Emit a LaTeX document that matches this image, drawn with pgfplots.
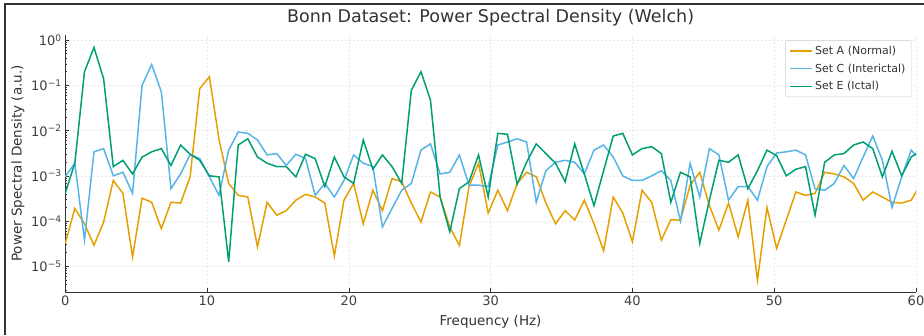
\documentclass[border=0pt]{standalone}
\usepackage{fontspec}
\setmainfont{DejaVu Sans}
\usepackage{pgfplots}
\pgfplotsset{compat=1.18}
\usepackage{pgfplotstable}
\definecolor{cA}{HTML}{E69F00}
\definecolor{cC}{HTML}{56B4E9}
\definecolor{cE}{HTML}{009E73}
\pgfplotstableread{
f A C E
0 3.2e-5 9.5e-4 4.1e-4
0.68 1.9e-4 1.9e-3 1.9e-3
1.36 8.7e-5 3.8e-5 0.2
2.03 2.9e-5 3.4e-3 0.69
2.71 9.5e-5 4.0e-3 0.14
3.39 7.9e-4 1.0e-3 1.6e-3
4.07 4.1e-4 1.2e-3 2.2e-3
4.75 1.6e-5 4.1e-4 1.1e-3
5.42 3.2e-4 0.1 2.6e-3
6.10 2.6e-4 0.29 3.4e-3
6.78 6.8e-5 7.2e-2 4.0e-3
7.46 2.6e-4 5.2e-4 1.7e-3
8.14 2.5e-4 1.1e-3 4.8e-3
8.81 9.5e-4 3.0e-3 3.0e-3
9.49 8.5e-2 2.4e-3 2.2e-3
10.17 0.155 9.5e-4 1.0e-3
10.85 6.3e-3 3.7e-4 9.5e-4
11.53 6.8e-4 3.7e-3 1.26e-5
12.20 3.7e-4 9.3e-3 4.8e-3
12.88 3.4e-4 8.7e-3 6.6e-3
13.56 2.7e-5 6.2e-3 2.6e-3
14.24 2.6e-4 2.9e-3 1.9e-3
14.92 1.35e-4 3.1e-3 1.6e-3
15.59 1.7e-4 1.7e-3 1.6e-3
16.27 2.9e-4 3.0e-3 9.5e-4
16.95 3.9e-4 2.4e-3 3.0e-3
17.63 3.4e-4 3.7e-4 2.4e-3
18.31 2.5e-4 6.8e-4 5.8e-4
18.98 1.7e-5 3.4e-4 2.6e-3
19.66 2.9e-4 7.9e-4 9.5e-4
20.34 6.8e-4 2.9e-3 6.8e-4
21.02 8.7e-5 1.9e-3 6.2e-3
21.70 4.8e-4 1.6e-3 1.4e-3
22.37 1.7e-4 7.4e-5 2.9e-3
23.05 8.7e-4 1.9e-4 1.6e-3
23.73 7.4e-4 4.8e-4 6.8e-4
24.41 2.5e-4 6.8e-4 7.8e-2
25.09 9.5e-5 3.7e-3 0.2
25.76 4.4e-4 5.1e-3 4.7e-2
26.44 3.4e-4 1.1e-3 3.4e-4
27.12 7.4e-5 1.2e-3 5.8e-5
27.80 2.9e-5 2.9e-3 5.2e-4
28.48 5.8e-4 6.2e-4 7.4e-4
29.15 1.9e-3 6.2e-4 2.9e-3
29.83 1.5e-4 5.8e-4 3.4e-4
30.51 4.8e-4 4.8e-3 8.7e-3
31.19 1.7e-4 5.6e-3 8.3e-3
31.87 6.8e-4 6.6e-3 6.5e-4
32.54 1.2e-3 5.6e-3 2.0e-3
33.22 9.5e-4 2.6e-4 5.1e-3
33.90 2.5e-4 1.3e-3 3.1e-3
34.58 8.7e-5 2.0e-3 1.9e-3
35.26 1.7e-4 2.2e-3 7.4e-4
35.93 1.05e-4 2.0e-3 5.1e-3
36.61 2.9e-4 1.1e-3 1.1e-3
37.29 8.7e-5 3.7e-3 2.2e-4
37.97 2.2e-5 4.8e-3 1.3e-3
38.65 3.4e-4 2.6e-3 7.6e-3
39.32 1.5e-4 1.0e-3 8.7e-3
40.00 3.5e-5 7.9e-4 2.9e-3
40.68 4.8e-4 7.9e-4 4.0e-3
41.36 2.6e-4 1.0e-3 4.4e-3
42.04 3.8e-5 1.3e-3 3.1e-3
42.71 1.07e-4 7.9e-4 2.6e-4
43.39 1.05e-4 1.0e-4 1.2e-3
44.07 6.2e-4 1.9e-3 9.5e-4
44.75 1.2e-3 3.4e-4 3.2e-5
45.43 2.2e-4 4.0e-3 2.9e-4
46.10 6.3e-5 2.9e-3 2.2e-3
46.78 2.5e-4 2.9e-4 2.0e-3
47.46 4.5e-5 5.8e-4 2.9e-3
48.14 2.9e-4 5.8e-4 5.2e-4
48.82 4.9e-6 2.9e-4 1.3e-3
49.49 2.0e-4 1.6e-3 3.7e-3
50.17 2.5e-5 3.2e-3 2.8e-3
50.85 1.05e-4 3.4e-3 1.0e-3
51.53 4.4e-4 3.7e-3 1.4e-3
52.21 3.7e-4 2.9e-3 1.6e-3
52.88 4.1e-4 5.2e-4 1.35e-4
53.56 1.2e-3 4.8e-4 2.0e-3
54.24 1.1e-3 6.8e-4 2.9e-3
54.92 9.5e-4 1.7e-3 3.1e-3
55.60 6.8e-4 8.7e-4 4.8e-3
56.27 2.9e-4 2.6e-3 5.6e-3
56.95 4.4e-4 7.6e-3 4.0e-3
57.63 3.4e-4 2.2e-3 9.5e-4
58.31 2.6e-4 2.0e-4 3.5e-3
58.99 2.5e-4 9.5e-4 1.0e-3
59.66 2.9e-4 3.7e-3 2.6e-3
60.34 6.6e-4 2.2e-3 3.7e-3
}\psd
\begin{document}
\begin{tikzpicture}[x=1pt,y=1pt]
\useasboundingbox (0,0) rectangle (924,335);
\begin{axis}[
  at={(65.2pt,43pt)}, anchor=south west,
  scale only axis, width=850.8pt, height=257pt,
  xmin=0, xmax=60, ymode=log, ymin=2.7e-6, ymax=1.3,
  axis x line*=bottom, axis y line*=left,
  axis line style={-, black!80, line width=0.8pt},
  xtick={0,10,...,60},
  ytick={1e-5,1e-4,1e-3,1e-2,1e-1,1},
  yticklabels={10\textsuperscript{−5},10\textsuperscript{−4},10\textsuperscript{−3},10\textsuperscript{−2},10\textsuperscript{−1},10\textsuperscript{0}},
  minor ytick={3e-6,4e-6,5e-6,6e-6,7e-6,8e-6,9e-6,2e-5,3e-5,4e-5,5e-5,6e-5,7e-5,8e-5,9e-5,2e-4,3e-4,4e-4,5e-4,6e-4,7e-4,8e-4,9e-4,2e-3,3e-3,4e-3,5e-3,6e-3,7e-3,8e-3,9e-3,2e-2,3e-2,4e-2,5e-2,6e-2,7e-2,8e-2,9e-2,0.2,0.3,0.4,0.5,0.6,0.7,0.8,0.9},
  tick style={black!80, line width=0.6pt}, major tick length=4pt, minor tick length=2pt,
  tick align=inside,
  grid=major, major grid style={black!9, dash pattern=on 2pt off 2pt, line width=0.5pt},
  ticklabel style={font=\fontsize{13}{15}\selectfont, text=black!75},
  /pgf/number format/assume math mode=true,
  title={Bonn Dataset: Power Spectral Density (Welch)},
  title style={at={(axis description cs:0.5,1.027)}, anchor=base, font=\fontsize{17.5}{20}\selectfont, text=black!80},
  xlabel={Frequency (Hz)}, ylabel={Power Spectral Density (a.u.)},
  label style={font=\fontsize{13.5}{16}\selectfont, text=black!80},
  xlabel style={at={(axis description cs:0.5,-0.115)}, anchor=center},
  ylabel style={at={(axis description cs:-0.0555,0.5)}, anchor=center},
  legend style={at={(0.995,0.98)}, anchor=north east, draw=black!20, rounded corners=2pt,
    font=\fontsize{11}{13}\selectfont, text=black!80, row sep=4pt, inner xsep=4pt, inner ysep=3.5pt},
  legend cell align=left,
  legend image code/.code={\draw[#1] (0pt,0pt) -- (22pt,0pt);},
]
\addplot[cA, line width=1.5pt] table[x=f, y=A] {\psd};
\addlegendentry{Set A (Normal)}
\addplot[cC, line width=1.5pt] table[x=f, y=C] {\psd};
\addlegendentry{Set C (Interictal)}
\addplot[cE, line width=1.5pt] table[x=f, y=E] {\psd};
\addlegendentry{Set E (Ictal)}
\end{axis}
\draw[black!80, line width=1.2pt] (5,0) -- (5,331) -- (924,331);
\end{tikzpicture}
\end{document}
